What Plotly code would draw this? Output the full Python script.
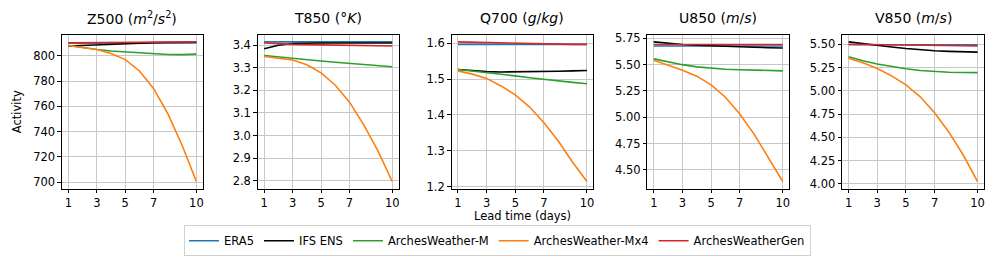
import plotly.graph_objects as go
from plotly.subplots import make_subplots

lead_days = [1, 2, 3, 4, 5, 6, 7, 8, 9, 10]
x_ticks = [1, 3, 5, 7, 10]

series_names = ["ERA5", "IFS ENS", "ArchesWeather-M", "ArchesWeather-Mx4", "ArchesWeatherGen"]
series_colors = ["#1f77b4", "#000000", "#2ca02c", "#ff7f0e", "#d62728"]

panel_titles = [
    "Z500 (<i>m</i><sup>2</sup>/<i>s</i><sup>2</sup>)",
    "T850 (°<i>K</i>)",
    "Q700 (<i>g</i>/<i>kg</i>)",
    "U850 (<i>m</i>/<i>s</i>)",
    "V850 (<i>m</i>/<i>s</i>)",
]

# Z500
z500_era5 = [810.0, 810.0, 810.0, 810.1, 810.1, 810.1, 810.2, 810.2, 810.2, 810.2]
z500_ifs = [807.8, 808.3, 808.8, 809.2, 809.6, 810.0, 810.3, 810.5, 810.6, 810.7]
z500_m = [808.2, 806.5, 805.0, 803.8, 803.0, 802.2, 801.5, 801.0, 800.9, 801.3]
z500_mx4 = [808.2, 806.8, 805.0, 801.8, 797.0, 788.0, 774.0, 754.0, 729.0, 700.5]
z500_gen = [810.2, 810.2, 810.3, 810.4, 810.5, 810.7, 810.8, 810.9, 811.0, 811.0]

# T850
t850_era5 = [3.415, 3.415, 3.415, 3.415, 3.415, 3.415, 3.415, 3.415, 3.415, 3.415]
t850_ifs = [3.385, 3.400, 3.408, 3.410, 3.410, 3.410, 3.410, 3.410, 3.410, 3.410]
t850_m = [3.355, 3.348, 3.341, 3.335, 3.330, 3.325, 3.320, 3.315, 3.309, 3.305]
t850_mx4 = [3.350, 3.343, 3.335, 3.314, 3.278, 3.223, 3.148, 3.047, 2.932, 2.796]
t850_gen = [3.410, 3.406, 3.404, 3.403, 3.402, 3.401, 3.400, 3.399, 3.398, 3.397]

# Q700
q700_era5 = [1.597, 1.597, 1.597, 1.597, 1.597, 1.597, 1.597, 1.597, 1.597, 1.597]
q700_ifs = [1.527, 1.523, 1.521, 1.520, 1.520, 1.520, 1.521, 1.522, 1.523, 1.524]
q700_m = [1.527, 1.523, 1.519, 1.514, 1.509, 1.504, 1.499, 1.495, 1.491, 1.487]
q700_mx4 = [1.523, 1.514, 1.502, 1.481, 1.456, 1.422, 1.378, 1.327, 1.268, 1.214]
q700_gen = [1.604, 1.603, 1.602, 1.600, 1.599, 1.598, 1.598, 1.597, 1.597, 1.597]

# U850
u850_era5 = [5.676, 5.676, 5.676, 5.676, 5.676, 5.676, 5.676, 5.676, 5.676, 5.676]
u850_ifs = [5.715, 5.700, 5.690, 5.683, 5.677, 5.672, 5.668, 5.664, 5.660, 5.657]
u850_m = [5.554, 5.524, 5.499, 5.478, 5.464, 5.456, 5.451, 5.448, 5.445, 5.440]
u850_mx4 = [5.540, 5.496, 5.446, 5.390, 5.308, 5.190, 5.030, 4.840, 4.620, 4.390]
u850_gen = [5.690, 5.690, 5.690, 5.690, 5.690, 5.690, 5.690, 5.690, 5.690, 5.690]

# V850
v850_era5 = [5.495, 5.495, 5.495, 5.495, 5.495, 5.495, 5.495, 5.495, 5.495, 5.495]
v850_ifs = [5.525, 5.505, 5.488, 5.470, 5.454, 5.440, 5.430, 5.423, 5.418, 5.415]
v850_m = [5.365, 5.322, 5.288, 5.260, 5.236, 5.218, 5.205, 5.199, 5.196, 5.195]
v850_mx4 = [5.350, 5.300, 5.240, 5.160, 5.064, 4.935, 4.763, 4.555, 4.310, 4.025]
v850_gen = [5.500, 5.497, 5.493, 5.490, 5.488, 5.486, 5.485, 5.484, 5.483, 5.482]

panels = [
    [z500_era5, z500_ifs, z500_m, z500_mx4, z500_gen],
    [t850_era5, t850_ifs, t850_m, t850_mx4, t850_gen],
    [q700_era5, q700_ifs, q700_m, q700_mx4, q700_gen],
    [u850_era5, u850_ifs, u850_m, u850_mx4, u850_gen],
    [v850_era5, v850_ifs, v850_m, v850_mx4, v850_gen],
]

y_ticks = [
    [700, 720, 740, 760, 780, 800],
    [2.8, 2.9, 3.0, 3.1, 3.2, 3.3, 3.4],
    [1.2, 1.3, 1.4, 1.5, 1.6],
    [4.50, 4.75, 5.00, 5.25, 5.50, 5.75],
    [4.00, 4.25, 4.50, 4.75, 5.00, 5.25, 5.50],
]
y_tickformat = ["d", ".1f", ".1f", ".2f", ".2f"]

W, H = 996, 265
x_px = [(62, 203), (258, 399), (452, 594), (648, 790), (843, 985)]
y_top, y_bot = 32, 191

fig = make_subplots(rows=1, cols=5)
FONT = "DejaVu Sans"
FS = 11.5

for i, data in enumerate(panels):
    for j, vals in enumerate(data):
        fig.add_trace(
            go.Scatter(
                x=lead_days, y=vals, mode="lines",
                line=dict(color=series_colors[j], width=1.6),
                name=series_names[j], legendgroup=series_names[j],
                showlegend=(i == 0),
            ),
            row=1, col=i + 1,
        )
    allv = [v for s in data for v in s]
    lo, hi = min(allv), max(allv)
    pad = (hi - lo) * 0.05
    xa = "xaxis" if i == 0 else f"xaxis{i+1}"
    ya = "yaxis" if i == 0 else f"yaxis{i+1}"
    fig.layout[xa].update(
        domain=[x_px[i][0] / W, x_px[i][1] / W],
        range=[0.55, 10.45], tickvals=x_ticks,
        showline=True, mirror=True, linecolor="black", linewidth=1,
        ticks="outside", ticklen=3.5, tickcolor="black",
        showgrid=True, gridcolor="#c8c8c8", gridwidth=1, zeroline=False,
        tickfont=dict(family=FONT, size=FS, color="black"),
    )
    fig.layout[ya].update(
        domain=[1 - y_bot / H, 1 - y_top / H],
        range=[lo - pad, hi + pad], tickvals=y_ticks[i], tickformat=y_tickformat[i],
        showline=True, mirror=True, linecolor="black", linewidth=1,
        ticks="outside", ticklen=3.5, tickcolor="black",
        showgrid=True, gridcolor="#c8c8c8", gridwidth=1, zeroline=False,
        tickfont=dict(family=FONT, size=FS, color="black"),
    )
    fig.add_annotation(
        text=panel_titles[i], xref="paper", yref="paper",
        x=(x_px[i][0] + x_px[i][1]) / 2 / W, y=1 - 14 / H,
        showarrow=False, font=dict(family=FONT, size=14, color="black"),
        xanchor="center", yanchor="middle",
    )

fig.add_annotation(
    text="Activity", xref="paper", yref="paper", x=17 / W, y=1 - 111 / H,
    textangle=-90, showarrow=False, font=dict(family=FONT, size=FS, color="black"),
    xanchor="center", yanchor="middle",
)
fig.add_annotation(
    text="Lead time (days)", xref="paper", yref="paper", x=523 / W, y=1 - 219 / H,
    showarrow=False, font=dict(family=FONT, size=FS, color="black"),
    xanchor="center", yanchor="middle",
)

fig.update_layout(
    width=W, height=H, margin=dict(l=0, r=0, t=0, b=0),
    plot_bgcolor="white", paper_bgcolor="white",
    font=dict(family=FONT, size=FS, color="black"),
    legend=dict(
        orientation="h", x=498 / W, y=1 - 245 / H, xanchor="center", yanchor="middle",
        bordercolor="#d0d0d0", borderwidth=1, font=dict(family=FONT, size=FS, color="black"),
        itemwidth=30,
    ),
)

fig.write_html(
    "out.html",
    config={"displayModeBar": False},
    post_script="document.body.style.margin='0';document.body.style.padding='0';",
)
